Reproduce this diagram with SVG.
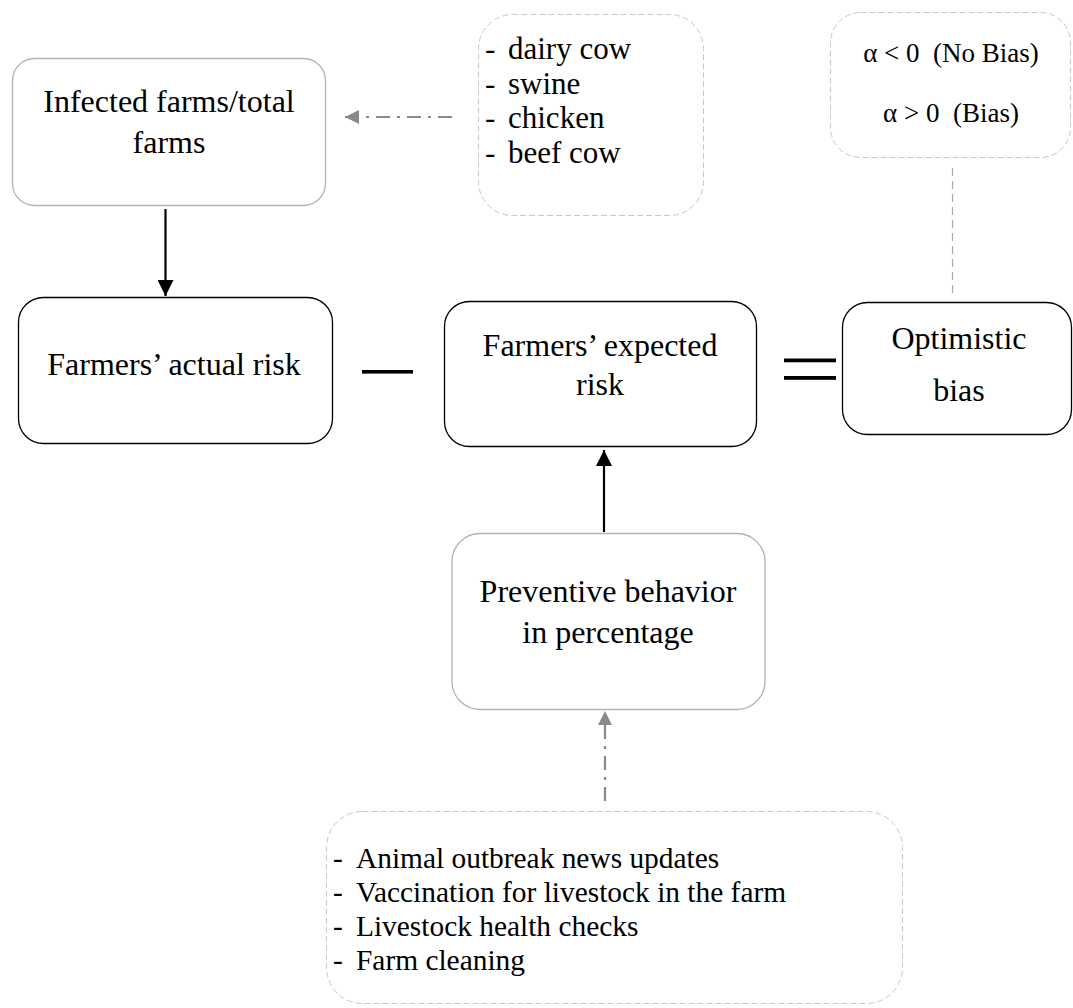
<svg xmlns="http://www.w3.org/2000/svg" width="1073" height="1008" viewBox="0 0 1073 1008">
  <defs>
    <style>
      text { font-family: "Liberation Serif", "Times New Roman", serif; fill: #000; }
      .lbl { font-size: 32px; text-anchor: middle; }
      .item { font-size: 31px; }
      .item2 { font-size: 29.4px; }
      .cond { font-size: 27px; text-anchor: middle; }
      .box-dark { fill: #fff; stroke: #000; stroke-width: 1.3; }
      .box-grey { fill: #fff; stroke: #b4b4b4; stroke-width: 1.3; }
      .box-dash { fill: #fff; stroke: #c8c8c8; stroke-width: 1; stroke-dasharray: 6 3; }
      .solid { fill: none; stroke: #000; stroke-width: 2.2; }
      .dashdot { fill: none; stroke: #8a8a8a; stroke-width: 2.2; stroke-dasharray: 14 7 3 7; }
      .guide { fill: none; stroke: #a8a8a8; stroke-width: 1.2; stroke-dasharray: 8 5; }
      .op { fill: #000; }
    </style>
    <marker id="head-black" viewBox="0 0 16 16" refX="16" refY="8" markerWidth="16" markerHeight="16" markerUnits="userSpaceOnUse" orient="auto">
      <path d="M0,0 L16,8 L0,16 Z" fill="#000"/>
    </marker>
    <marker id="head-grey" viewBox="0 0 14 14" refX="14" refY="7" markerWidth="14" markerHeight="14" markerUnits="userSpaceOnUse" orient="auto">
      <path d="M0,0 L14,7 L0,14 Z" fill="#8a8a8a"/>
    </marker>
  </defs>

  <!-- connectors -->
  <g id="connectors">
    <line class="solid" x1="165.5" y1="209" x2="165.5" y2="296" marker-end="url(#head-black)"/>
    <line class="solid" x1="604" y1="532" x2="604" y2="450" marker-end="url(#head-black)"/>
    <line class="dashdot" x1="452" y1="117" x2="345" y2="117" marker-end="url(#head-grey)"/>
    <line class="dashdot" x1="605" y1="801" x2="605" y2="711" marker-end="url(#head-grey)"/>
    <line class="guide" x1="952.5" y1="168" x2="952.5" y2="295"/>
  </g>

  <!-- infection ratio -->
  <g id="infected-ratio">
    <rect class="box-grey" x="12.5" y="58.5" width="313" height="147" rx="22"/>
    <text class="lbl" x="169" y="112">Infected farms/total</text>
    <text class="lbl" x="169" y="153">farms</text>
  </g>

  <!-- livestock types -->
  <g id="livestock-types">
    <rect class="box-dash" x="478.5" y="14.5" width="225" height="201" rx="34"/>
    <text class="item" x="485" y="59">-</text>
    <text class="item" x="508" y="59">dairy cow</text>
    <text class="item" x="485" y="93.5">-</text>
    <text class="item" x="508" y="93.5">swine</text>
    <text class="item" x="485" y="128">-</text>
    <text class="item" x="508" y="128">chicken</text>
    <text class="item" x="485" y="162.5">-</text>
    <text class="item" x="508" y="162.5">beef cow</text>
  </g>

  <!-- bias conditions -->
  <g id="bias-conditions">
    <rect class="box-dash" x="830.5" y="12.5" width="240" height="145" rx="30"/>
    <text class="cond" x="951" y="62" xml:space="preserve">α &lt; 0  (No Bias)</text>
    <text class="cond" x="951" y="122" xml:space="preserve">α &gt; 0  (Bias)</text>
  </g>

  <!-- actual risk -->
  <g id="actual-risk">
    <rect class="box-dark" x="18.5" y="297.5" width="314" height="146" rx="25"/>
    <text class="lbl" x="174" y="375">Farmers’ actual risk</text>
  </g>

  <!-- minus operator -->
  <g id="minus">
    <rect class="op" x="362" y="370" width="51" height="3.6"/>
  </g>

  <!-- expected risk -->
  <g id="expected-risk">
    <rect class="box-dark" x="444.5" y="301.5" width="312" height="145" rx="25"/>
    <text class="lbl" x="600" y="355.5">Farmers’ expected</text>
    <text class="lbl" x="600" y="395">risk</text>
  </g>

  <!-- equals operator -->
  <g id="equals">
    <rect class="op" x="784" y="358.5" width="52" height="3.8"/>
    <rect class="op" x="784" y="376" width="52" height="3.8"/>
  </g>

  <!-- optimistic bias -->
  <g id="optimistic-bias">
    <rect class="box-dark" x="842.5" y="302.5" width="229" height="132" rx="25"/>
    <text class="lbl" x="959" y="349">Optimistic</text>
    <text class="lbl" x="959" y="401">bias</text>
  </g>

  <!-- preventive behaviour -->
  <g id="preventive-behavior">
    <rect class="box-grey" x="452" y="533.5" width="313" height="176" rx="28"/>
    <text class="lbl" x="608" y="602">Preventive behavior</text>
    <text class="lbl" x="608" y="643">in percentage</text>
  </g>

  <!-- preventive measures -->
  <g id="preventive-measures">
    <rect class="box-dash" x="326.5" y="811.5" width="576" height="192" rx="36"/>
    <text class="item2" x="333" y="868">-</text>
    <text class="item2" x="356" y="868">Animal outbreak news updates</text>
    <text class="item2" x="333" y="902">-</text>
    <text class="item2" x="356" y="902">Vaccination for livestock in the farm</text>
    <text class="item2" x="333" y="936">-</text>
    <text class="item2" x="356" y="936">Livestock health checks</text>
    <text class="item2" x="333" y="970">-</text>
    <text class="item2" x="356" y="970">Farm cleaning</text>
  </g>
</svg>
